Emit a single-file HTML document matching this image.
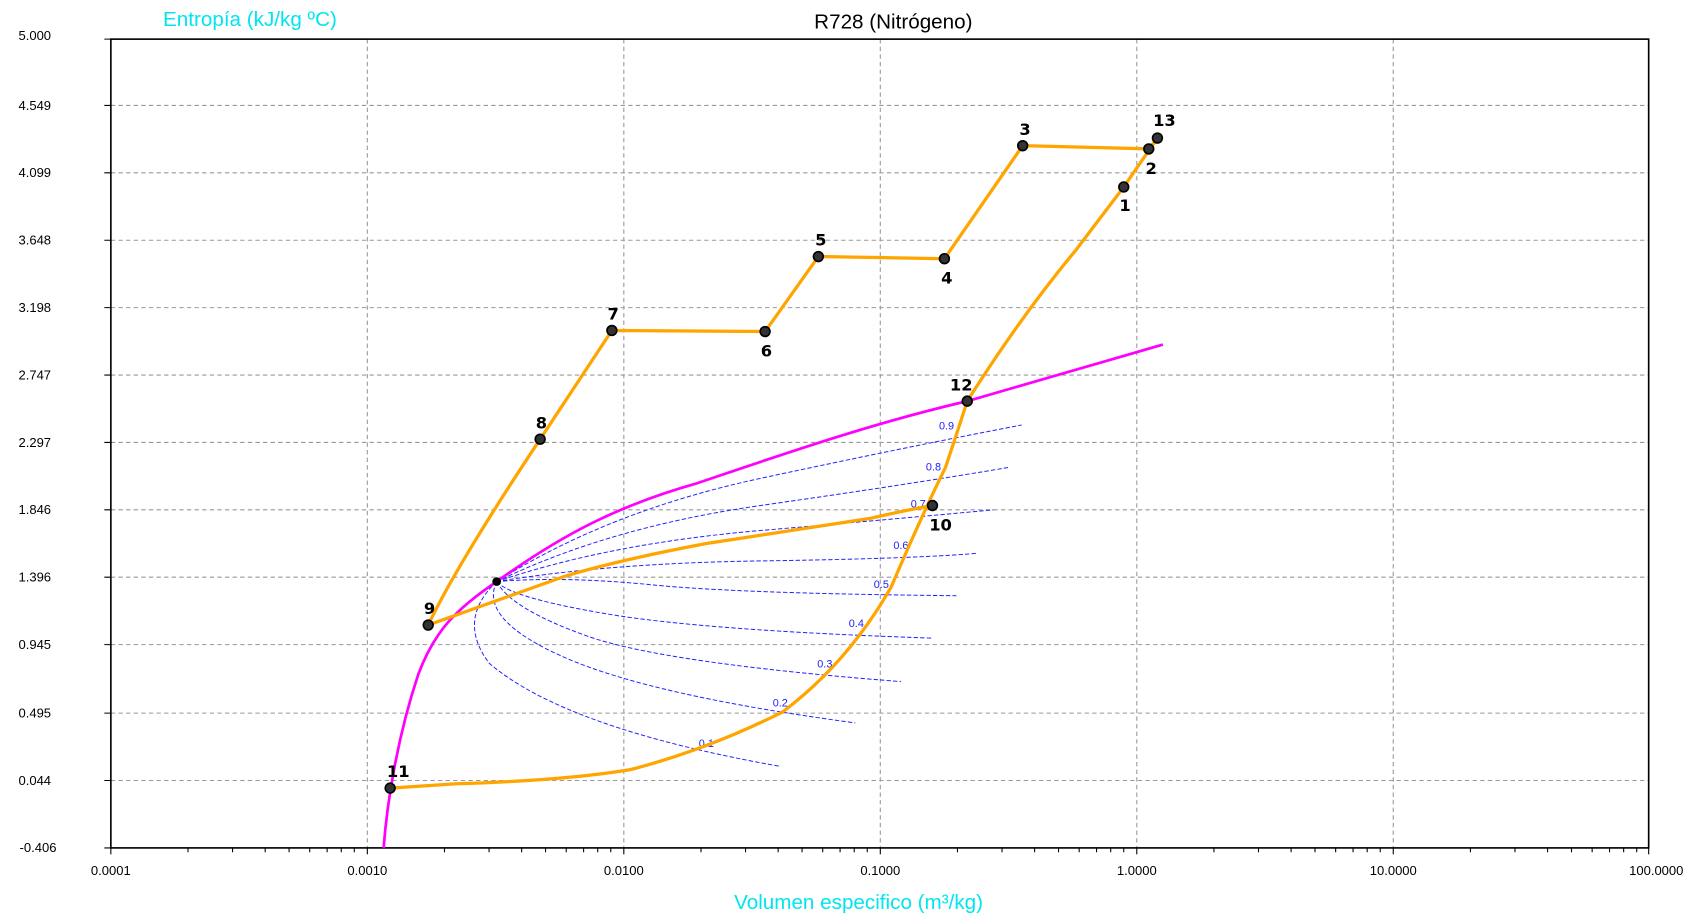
<!DOCTYPE html>
<html><head><meta charset="utf-8"><style>
html,body{margin:0;padding:0;background:#fff;}
svg{display:block;font-family:"Liberation Sans",sans-serif;}
</style></head><body>
<svg width="1703" height="924" viewBox="0 0 1567 850" preserveAspectRatio="none" xmlns="http://www.w3.org/2000/svg">
<rect width="1567" height="850" fill="#fff"/>
<g stroke="#999" stroke-width="1" stroke-dasharray="4,3">
<line x1="102" y1="97" x2="1517" y2="97"/><line x1="102" y1="159" x2="1517" y2="159"/>
<line x1="102" y1="221" x2="1517" y2="221"/><line x1="102" y1="283" x2="1517" y2="283"/>
<line x1="102" y1="345" x2="1517" y2="345"/><line x1="102" y1="407" x2="1517" y2="407"/>
<line x1="102" y1="469" x2="1517" y2="469"/><line x1="102" y1="531" x2="1517" y2="531"/>
<line x1="102" y1="593" x2="1517" y2="593"/><line x1="102" y1="656" x2="1517" y2="656"/>
<line x1="102" y1="718" x2="1517" y2="718"/>
<line x1="338" y1="36" x2="338" y2="780"/><line x1="574" y1="36" x2="574" y2="780"/>
<line x1="810" y1="36" x2="810" y2="780"/><line x1="1046" y1="36" x2="1046" y2="780"/>
<line x1="1282" y1="36" x2="1282" y2="780"/>
</g>
<rect x="102" y="36" width="1415" height="744" fill="none" stroke="#000" stroke-width="1.5"/>
<g stroke="#000" stroke-width="1">
<path d="M102 780v6M338 780v6M574 780v6M810 780v6M1046 780v6M1282 780v6M1517 780v6
M173 780v4M214 780v4M244 780v4M266 780v4M285 780v4M301 780v4M314 780v4M326 780v4
M409 780v4M450 780v4M480 780v4M502 780v4M521 780v4M537 780v4M550 780v4M562 780v4
M645 780v4M686 780v4M716 780v4M738 780v4M757 780v4M773 780v4M786 780v4M798 780v4
M881 780v4M922 780v4M952 780v4M974 780v4M993 780v4M1009 780v4M1022 780v4M1034 780v4
M1117 780v4M1158 780v4M1188 780v4M1210 780v4M1229 780v4M1245 780v4M1258 780v4M1270 780v4
M1353 780v4M1394 780v4M1424 780v4M1446 780v4M1465 780v4M1481 780v4M1494 780v4M1506 780v4
M96 36h6M96 97h6M96 159h6M96 221h6M96 283h6M96 345h6M96 407h6M96 469h6M96 531h6M96 593h6M96 656h6M96 718h6M96 780h6"/>
</g>
<g font-size="12" fill="#000" text-anchor="end">
<text x="47" y="37">5.000</text><text x="47" y="101">4.549</text><text x="47" y="163">4.099</text>
<text x="47" y="225">3.648</text><text x="47" y="287">3.198</text><text x="47" y="349">2.747</text>
<text x="47" y="411">2.297</text><text x="47" y="473">1.846</text><text x="47" y="535">1.396</text>
<text x="47" y="597">0.945</text><text x="47" y="660">0.495</text><text x="47" y="722">0.044</text>
<text x="52" y="784">-0.406</text>
</g>
<g font-size="12" fill="#000" text-anchor="middle">
<text x="102" y="805">0.0001</text><text x="338" y="805">0.0010</text><text x="574" y="805">0.0100</text>
<text x="810" y="805">0.1000</text><text x="1046" y="805">1.0000</text><text x="1282" y="805">10.0000</text>
<text x="1524" y="805">100.0000</text>
</g>
<text x="150" y="24" font-size="19" fill="#00e5ee">Entropía (kJ/kg ºC)</text>
<text x="822" y="26" font-size="19" fill="#000" text-anchor="middle">R728 (Nitrógeno)</text>
<text x="790" y="836" font-size="19" fill="#00e5ee" text-anchor="middle">Volumen especifico (m³/kg)</text>
<g fill="none" stroke="#2020ff" stroke-width="0.9" stroke-dasharray="4,2">
<path d="M457 535 Q560 470 700 440 T940 391"/>
<path d="M457 535 Q560 485 700 465 T928 430"/>
<path d="M457 535 Q560 500 700 488 T914 469"/>
<path d="M457 535 Q560 518 700 516 T899 509"/>
<path d="M457 535 Q520 530 600 538 T880 548"/>
<path d="M457 535 Q470 550 560 565 T857 587"/>
<path d="M457 535 Q470 560 540 585 T829 627"/>
<path d="M457 535 Q440 570 520 605 T787 665"/>
<path d="M457 535 Q420 570 450 610 Q520 670 718 705"/>
</g>
<g font-size="10" fill="#2020ff">
<text x="864" y="395">0.9</text><text x="852" y="433">0.8</text><text x="838" y="467">0.7</text>
<text x="822" y="505">0.6</text><text x="804" y="541">0.5</text><text x="781" y="577">0.4</text>
<text x="752" y="614">0.3</text><text x="711" y="650">0.2</text><text x="643" y="687">0.1</text>
</g>
<path d="M353 780 C356 740 365 680 385 620 C400 580 420 560 457 535 C520 490 570 465 640 445 C720 418 800 390 890 369 L1070 317" fill="none" stroke="#ff00ff" stroke-width="2.5"/>
<circle cx="457" cy="535" r="4" fill="#000"/>
<g fill="none" stroke="#ffa500" stroke-width="3" stroke-linejoin="round">
<path d="M1065 127 L1057 137 L941 134 L869 238 L753 236 L704 305 L563 304 L497 404 Q420 520 394 575 L520 530 Q570 515 650 500 Q730 488 800 477 Q830 470 858 465"/>
<path d="M359 725 L420 721 Q520 718 580 708 Q650 690 720 655 Q780 610 820 540 Q850 470 870 430 Q880 400 890 369 Q940 290 990 230 L1034 172 L1065 127"/>
</g>
<g fill="#333" stroke="#000" stroke-width="1.5">
<circle cx="1034" cy="172" r="4.5"/><circle cx="1057" cy="137" r="4.5"/><circle cx="1065" cy="127" r="4.5"/>
<circle cx="941" cy="134" r="4.5"/><circle cx="869" cy="238" r="4.5"/><circle cx="753" cy="236" r="4.5"/>
<circle cx="704" cy="305" r="4.5"/><circle cx="563" cy="304" r="4.5"/><circle cx="497" cy="404" r="4.5"/>
<circle cx="394" cy="575" r="4.5"/><circle cx="858" cy="465" r="4.5"/><circle cx="359" cy="725" r="4.5"/>
<circle cx="890" cy="369" r="4.5"/>
</g>
<g font-size="15" font-weight="bold" fill="#000" font-family="'DejaVu Sans',sans-serif">
<text x="1030" y="194">1</text><text x="1054" y="160">2</text><text x="1061" y="116">13</text>
<text x="938" y="124">3</text><text x="866" y="261">4</text><text x="750" y="226">5</text>
<text x="700" y="328">6</text><text x="559" y="294">7</text><text x="493" y="394">8</text>
<text x="390" y="565">9</text><text x="855" y="488">10</text><text x="356" y="715">11</text>
<text x="874" y="359">12</text>
</g>
</svg>
</body></html>
